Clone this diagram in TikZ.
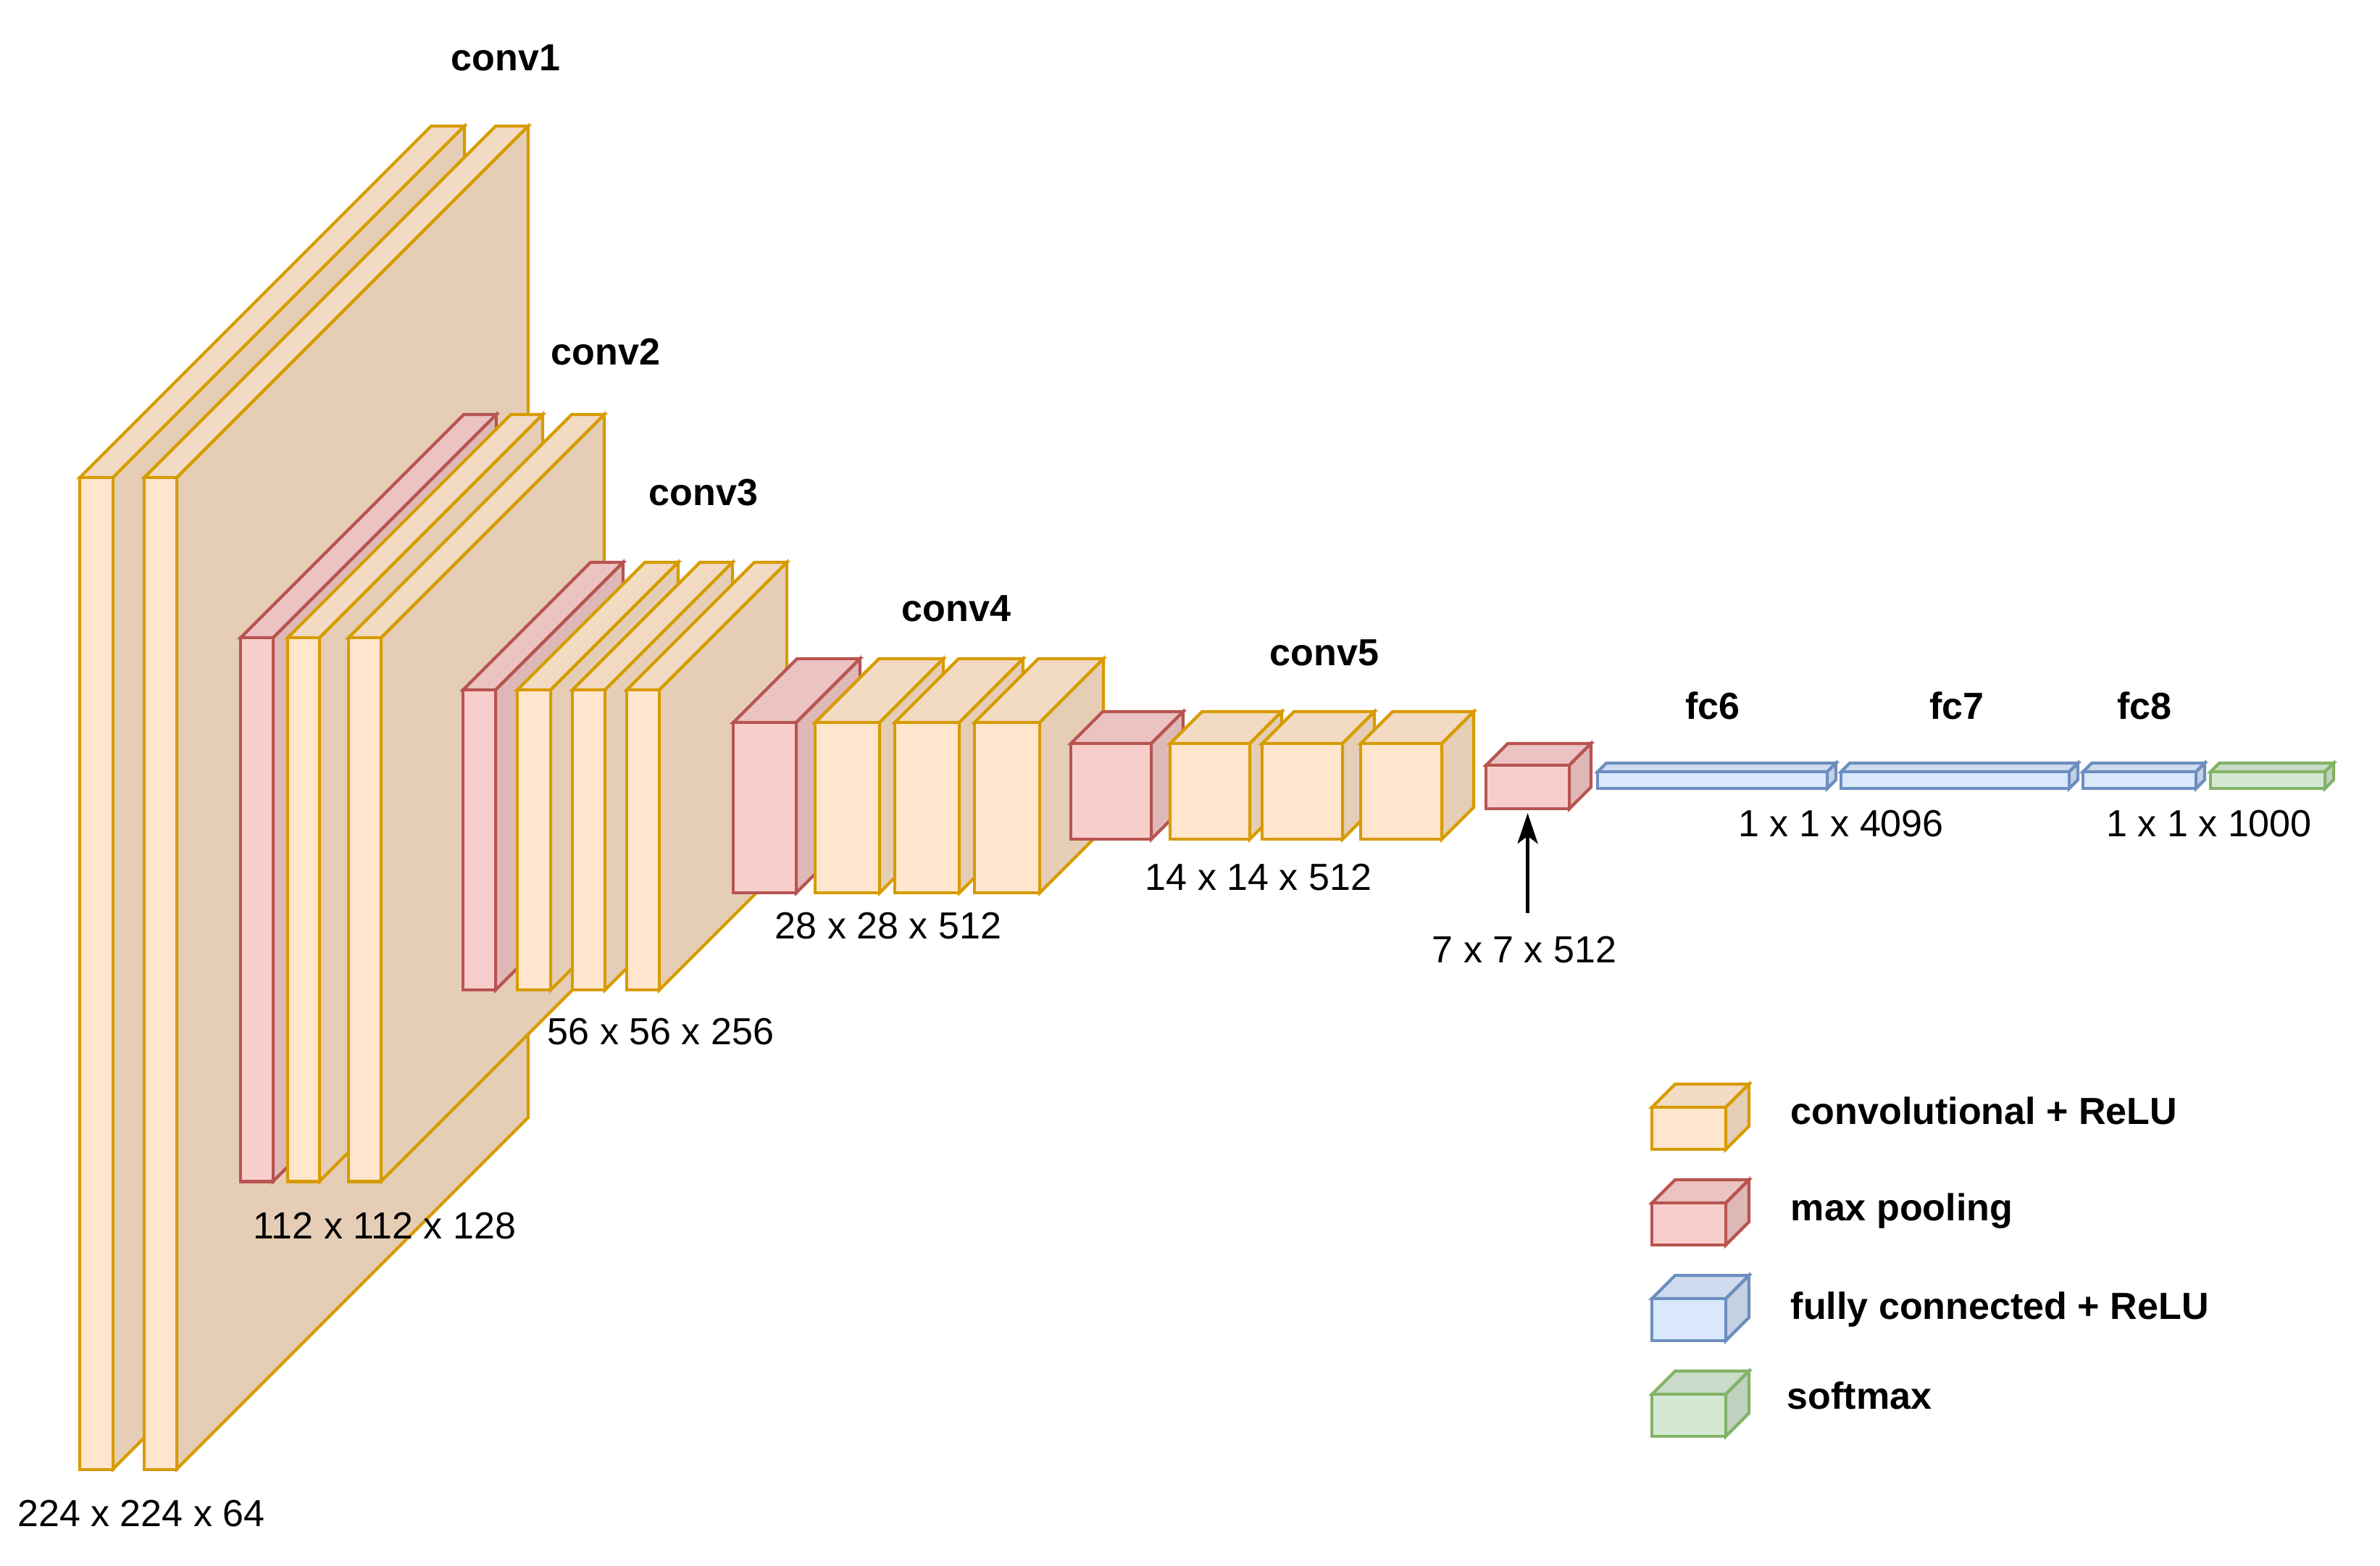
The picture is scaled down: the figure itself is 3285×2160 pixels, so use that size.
\documentclass[tikz,border=0pt]{standalone}
\usepackage{fontspec}
\setmainfont{Liberation Sans}
\usetikzlibrary{arrows.meta}
\definecolor{convF}{HTML}{FFE6CC}\definecolor{convS}{HTML}{D79B00}
\definecolor{convT}{HTML}{F2DBC2}\definecolor{convD}{HTML}{E5CEB5}
\definecolor{poolF}{HTML}{F8CECC}\definecolor{poolS}{HTML}{B85450}
\definecolor{poolT}{HTML}{EAC3C2}\definecolor{poolD}{HTML}{DEB8B7}
\definecolor{fcF}{HTML}{DAE8FC}\definecolor{fcS}{HTML}{6C8EBF}
\definecolor{fcT}{HTML}{CFDCEF}\definecolor{fcD}{HTML}{C4D1E3}
\definecolor{smF}{HTML}{D5E8D4}\definecolor{smS}{HTML}{82B366}
\definecolor{smT}{HTML}{CADCC9}\definecolor{smD}{HTML}{C0D1BF}
\newcommand{\cubeblk}[7]{%
  \filldraw[face, fill=#7T, draw=#7S] (#2,#3) -- (#2+#6,#3-#6) -- (#4+#6,#3-#6) -- (#4,#3) -- cycle;
  \filldraw[face, fill=#7D, draw=#7S] (#4,#3) -- (#4+#6,#3-#6) -- (#4+#6,#5-#6) -- (#4,#5) -- cycle;
  \node[face, fill=#7F, draw=#7S, inner sep=0pt, outer sep=0pt, anchor=north west,
        minimum width={(#4-#2)*0.28453pt}, minimum height={(#5-#3)*0.28453pt}] (#1) at (#2,#3) {};
}
\begin{document}
\begin{tikzpicture}[x=0.01cm, y=-0.01cm,
  face/.style={line width=1.2pt, line join=miter},
  lbl/.style={font=\fontsize{14.8pt}{17pt}\selectfont\bfseries, inner sep=0pt},
  dimtxt/.style={font=\fontsize{14.8pt}{17pt}\selectfont, inner sep=0pt},
  legtxt/.style={font=\fontsize{14.8pt}{17pt}\selectfont\bfseries, inner sep=0pt, anchor=base west},
  arr/.style={line width=1.2pt, -{Stealth[length=12pt, width=8pt, inset=3pt]}}]
\useasboundingbox (0,0) rectangle (3285,2160);
% conv1
\cubeblk{c1a}{110}{659}{156}{2027}{485}{conv}
\cubeblk{c1b}{199}{659}{244}{2027}{485}{conv}
% conv2
\cubeblk{p1}{332}{880}{377}{1630}{308}{pool}
\cubeblk{c2a}{397}{880}{441}{1630}{308}{conv}
\cubeblk{c2b}{481}{880}{526}{1630}{308}{conv}
% conv3
\cubeblk{p2}{639}{952}{684}{1366}{176}{pool}
\cubeblk{c3a}{714}{952}{760}{1366}{176}{conv}
\cubeblk{c3b}{790}{952}{835}{1366}{176}{conv}
\cubeblk{c3c}{865}{952}{910}{1366}{176}{conv}
% conv4
\cubeblk{p3}{1012}{997}{1099}{1232}{88}{pool}
\cubeblk{c4a}{1125}{997}{1214}{1232}{88}{conv}
\cubeblk{c4b}{1235}{997}{1324}{1232}{88}{conv}
\cubeblk{c4c}{1345}{997}{1435}{1232}{88}{conv}
% conv5
\cubeblk{p4}{1478}{1026}{1589}{1158}{44}{pool}
\cubeblk{c5a}{1615}{1026}{1725}{1158}{44}{conv}
\cubeblk{c5b}{1742}{1026}{1853}{1158}{44}{conv}
\cubeblk{c5c}{1878}{1026}{1990}{1158}{44}{conv}
% pool5 + fc
\cubeblk{p5}{2051}{1056}{2166}{1116}{30}{pool}
\cubeblk{fc6}{2205}{1065}{2522}{1088}{12}{fc}
\cubeblk{fc7}{2541}{1065}{2856}{1088}{12}{fc}
\cubeblk{fc8}{2875}{1065}{3031}{1088}{12}{fc}
\cubeblk{sm}{3051}{1065}{3209}{1088}{12}{sm}
% layer labels
\node[lbl] (tc1) at (698,80) {conv1};
\node[lbl] (tc2) at (836,486) {conv2};
\node[lbl] (tc3) at (971,680) {conv3};
\node[lbl] (tc4) at (1320,840) {conv4};
\node[lbl] (tc5) at (1828,901) {conv5};
\node[lbl] (tf6) at (2364,974) {fc6};
\node[lbl] (tf7) at (2701,974) {fc7};
\node[lbl] (tf8) at (2960,974) {fc8};
% dimension labels
\node[dimtxt] (d1) at (195,2089) {224 x 224 x 64};
\node[dimtxt] (d2) at (531,1692) {112 x 112 x 128};
\node[dimtxt] (d3) at (912,1424) {56 x 56 x 256};
\node[dimtxt] (d4) at (1226,1278) {28 x 28 x 512};
\node[dimtxt] (d5) at (1737,1211) {14 x 14 x 512};
\node[dimtxt] (d6) at (2104,1311) {7 x 7 x 512};
\node[dimtxt] (d7) at (2541,1137) {1 x 1 x 4096};
\node[dimtxt] (d8) at (3049,1137) {1 x 1 x 1000};
% arrow
\draw[arr, shorten <=0.32cm, shorten >=0.06cm] (d6.north -| p5.south) -- (p5.south);
% legend
\cubeblk{lg1}{2280}{1528}{2382}{1586}{32}{conv}
\cubeblk{lg2}{2280}{1660}{2382}{1718}{32}{pool}
\cubeblk{lg3}{2280}{1792}{2382}{1850}{32}{fc}
\cubeblk{lg4}{2280}{1924}{2382}{1982}{32}{sm}
\node[legtxt] (lt1) at (2471,1551) {convolutional + ReLU};
\node[legtxt] (lt2) at (2471,1684) {max pooling};
\node[legtxt] (lt3) at (2471,1820) {fully connected + ReLU};
\node[legtxt] (lt4) at (2466,1944) {softmax};
\end{tikzpicture}
\end{document}
